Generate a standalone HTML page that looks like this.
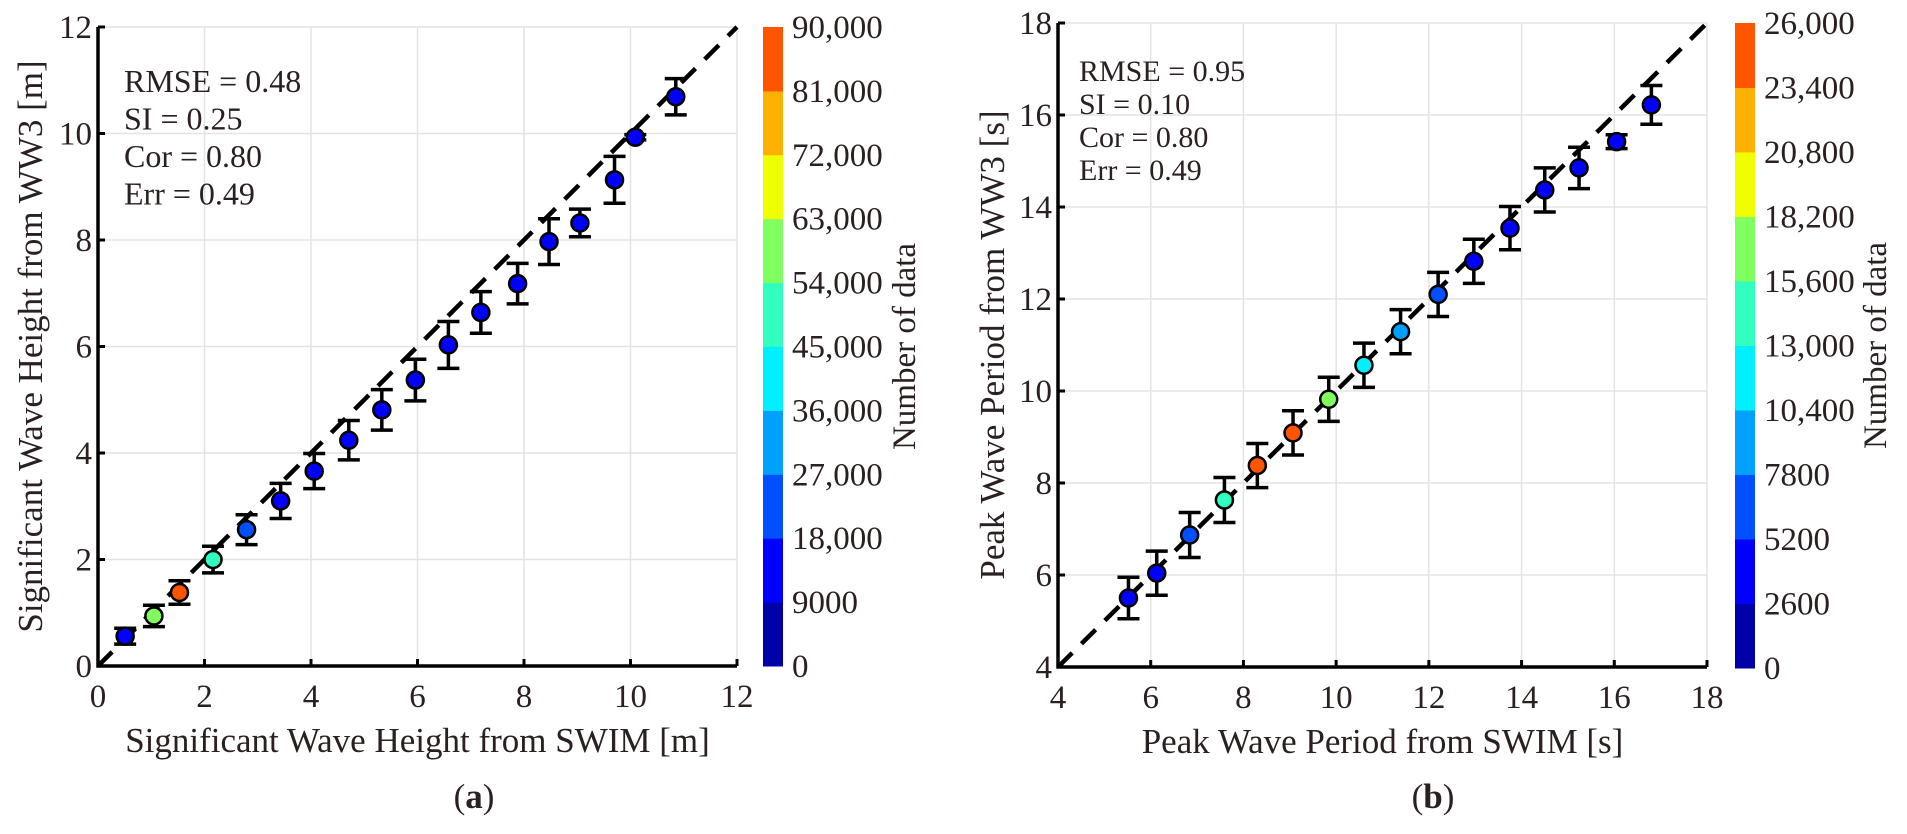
<!DOCTYPE html>
<html><head><meta charset="utf-8"><style>
html,body{margin:0;padding:0;background:#fff;}
svg{display:block;}
svg text{font-family:"Liberation Serif","Times New Roman",serif;fill:#2a2020;}
</style></head><body>
<svg id="fig" width="1907" height="834" viewBox="0 0 1907 834" xmlns="http://www.w3.org/2000/svg" font-family="Liberation Serif, serif"></svg>
<script>
// ---- Panel (a) data ----
const aX = [0.51,1.05,1.53,2.16,2.79,3.43,4.06,4.71,5.33,5.96,6.58,7.19,7.88,8.47,9.05,9.70,10.09,10.85];
const aY = [0.56,0.94,1.38,2.00,2.56,3.10,3.66,4.24,4.81,5.37,6.03,6.64,7.18,7.97,8.32,9.13,9.93,10.69];
const aErr = [0.15,0.20,0.22,0.25,0.28,0.33,0.33,0.37,0.38,0.39,0.44,0.39,0.38,0.43,0.26,0.44,0.05,0.34];
const aCount = [12000,60000,85000,48000,22000,12000,12000,12000,12000,12000,12000,12000,12000,12000,12000,12000,12000,12000];
const aTicks = [0,2,4,6,8,10,12];
const aCbTicks = ["0","9000","18,000","27,000","36,000","45,000","54,000","63,000","72,000","81,000","90,000"];
const aStats = ["RMSE = 0.48","SI = 0.25","Cor = 0.80","Err = 0.49"];
// ---- Panel (b) data ----
const bX = [5.52,6.13,6.84,7.59,8.30,9.07,9.84,10.60,11.39,12.20,12.97,13.75,14.50,15.24,16.05,16.80];
const bY = [5.50,6.04,6.87,7.63,8.38,9.09,9.82,10.56,11.29,12.10,12.82,13.54,14.37,14.85,15.42,16.22];
const bErr = [0.45,0.48,0.49,0.49,0.48,0.48,0.48,0.48,0.48,0.48,0.48,0.47,0.48,0.45,0.15,0.42];
const bCount = [4000,4000,6500,14000,25000,25000,17000,12000,9000,6500,4000,4000,4000,4000,4000,4000];
const bTicks = [4,6,8,10,12,14,16,18];
const bCbTicks = ["0","2600","5200","7800","10,400","13,000","15,600","18,200","20,800","23,400","26,000"];
const bStats = ["RMSE = 0.95","SI = 0.10","Cor = 0.80","Err = 0.49"];

const bands = ['#0000a8','#0000ff','#0050ff','#00a0ff','#00f0ff','#30ffc0','#80ff60','#f0ff00','#ffb000','#ff5400'];
const NS='http://www.w3.org/2000/svg';
const svg=document.getElementById('fig');
function el(tag,attrs,parent){const e=document.createElementNS(NS,tag);for(const k in attrs)e.setAttribute(k,attrs[k]);if(tag==='text'){e.setAttribute('font-family','Liberation Serif, Times New Roman, serif');}(parent||svg).appendChild(e);return e;}

function panel(cfg){
  const g=el('g',{});
  
  
  const x0=cfg.left,x1=cfg.right,y0=cfg.bottom,y1=cfg.top;
  const lo=cfg.ticks[0],hi=cfg.ticks[cfg.ticks.length-1];
  const sx=v=>x0+(v-lo)/(hi-lo)*(x1-x0);
  const sy=v=>y0-(v-lo)/(hi-lo)*(y0-y1);
  cfg.ticks.forEach(t=>{
    if(t!==lo){
      const gl=el('line',{x1:sx(t),x2:sx(t),y1:y0,y2:y1,stroke:'#e3e3e3','stroke-width':1.5},g);
      
      const hl=el('line',{x1:x0,x2:x1,y1:sy(t),y2:sy(t),stroke:'#e3e3e3','stroke-width':1.5},g);
      
    }
  });
  const dl=el('line',{x1:sx(lo),y1:sy(lo),x2:sx(hi),y2:sy(hi),stroke:'#000','stroke-width':4.5,'stroke-dasharray':'20 13'},g);
  
  const ax=el('path',{d:`M${x0},${y1} L${x0},${y0} L${x1},${y0}`,fill:'none',stroke:'#000','stroke-width':3.5},g);
  
  cfg.ticks.forEach(t=>{
    el('line',{x1:sx(t),x2:sx(t),y1:y0,y2:y0-7,stroke:'#000','stroke-width':3},g);
    el('line',{x1:x0,x2:x0+7,y1:sy(t),y2:sy(t),stroke:'#000','stroke-width':3},g);
    const tx=el('text',{x:sx(t),y:y0+41,'font-size':33,'text-anchor':'middle'},g);tx.textContent=t;
    
    const ty=el('text',{x:x0-6,y:sy(t)+11,'font-size':33,'text-anchor':'end'},g);ty.textContent=t;
    
  });
  cfg.xs.forEach((xv,i)=>{
    const px=sx(xv),py=sy(cfg.ys[i]),e1=sy(cfg.ys[i]+cfg.err[i]),e2=sy(cfg.ys[i]-cfg.err[i]);
    const eb=el('path',{d:`M${px},${e1} L${px},${e2} M${px-11},${e1} L${px+11},${e1} M${px-11},${e2} L${px+11},${e2}`,stroke:'#000','stroke-width':3.5,fill:'none'},g);
    
    const bi=Math.min(9,Math.floor(cfg.counts[i]/cfg.cmax*10));
    const c=el('circle',{cx:px,cy:py,r:8.5,fill:bands[bi],stroke:'#000','stroke-width':2.5},g);
    
  });
  cfg.stats.forEach((s,i)=>{
    const t=el('text',{x:cfg.statX,y:cfg.statY+i*cfg.statDy,'font-size':cfg.statFs},g);t.textContent=s;
    
  });
  const xt=el('text',{x:(x0+x1)/2,y:y0+86,'font-size':35,'text-anchor':'middle'},g);xt.textContent=cfg.xTitle;
  
  const ytx=cfg.yTitleX,yty=(y0+y1)/2;
  const yt=el('text',{x:ytx,y:yty,'font-size':35,'text-anchor':'middle',transform:`rotate(-90 ${ytx} ${yty})`},g);yt.textContent=cfg.yTitle;
  
  const cb=el('g',{},g);
  const ct=cfg.cbTop,cbot=cfg.cbBottom,bh=(cbot-ct)/10;
  bands.forEach((col,i)=>{el('rect',{x:cfg.cbX,y:cbot-(i+1)*bh,width:20,height:bh+0.5,fill:col},cb);});
  cfg.cbTicks.forEach((s,i)=>{
    const t=el('text',{x:cfg.cbX+29,y:cbot-i*bh+11,'font-size':33},cb);t.textContent=s;
    
  });
  const cx=cfg.cbTitleX,cy=(ct+cbot)/2;
  const cbt=el('text',{x:cx,y:cy,'font-size':33,'text-anchor':'middle',transform:`rotate(-90 ${cx} ${cy})`},cb);cbt.textContent='Number of data';
  
  const cap=el('text',{x:cfg.capX,y:808,'font-size':35,'text-anchor':'middle'},g);
  cap.innerHTML='(<tspan font-weight="bold">'+cfg.cap+'</tspan>)';
  
}

panel({name:'panel-a',left:98,right:737,top:27,bottom:666,ticks:aTicks,xs:aX,ys:aY,err:aErr,counts:aCount,cmax:90000,
  stats:aStats,statX:124,statY:92,statDy:37.5,statFs:32,xTitle:'Significant Wave Height from SWIM [m]',yTitle:'Significant Wave Height from WW3 [m]',
  yTitleX:42,cbX:763,cbTop:27,cbBottom:666,cbTicks:aCbTicks,cbTitleX:915,capX:474,cap:'a'});
panel({name:'panel-b',left:1058,right:1707,top:23,bottom:667,ticks:bTicks,xs:bX,ys:bY,err:bErr,counts:bCount,cmax:26000,
  stats:bStats,statX:1079,statY:81,statDy:33,statFs:30,xTitle:'Peak Wave Period from SWIM [s]',yTitle:'Peak Wave Period from WW3 [s]',
  yTitleX:1004,cbX:1735,cbTop:23,cbBottom:668,cbTicks:bCbTicks,cbTitleX:1886,capX:1433,cap:'b'});
</script>
</body></html>
